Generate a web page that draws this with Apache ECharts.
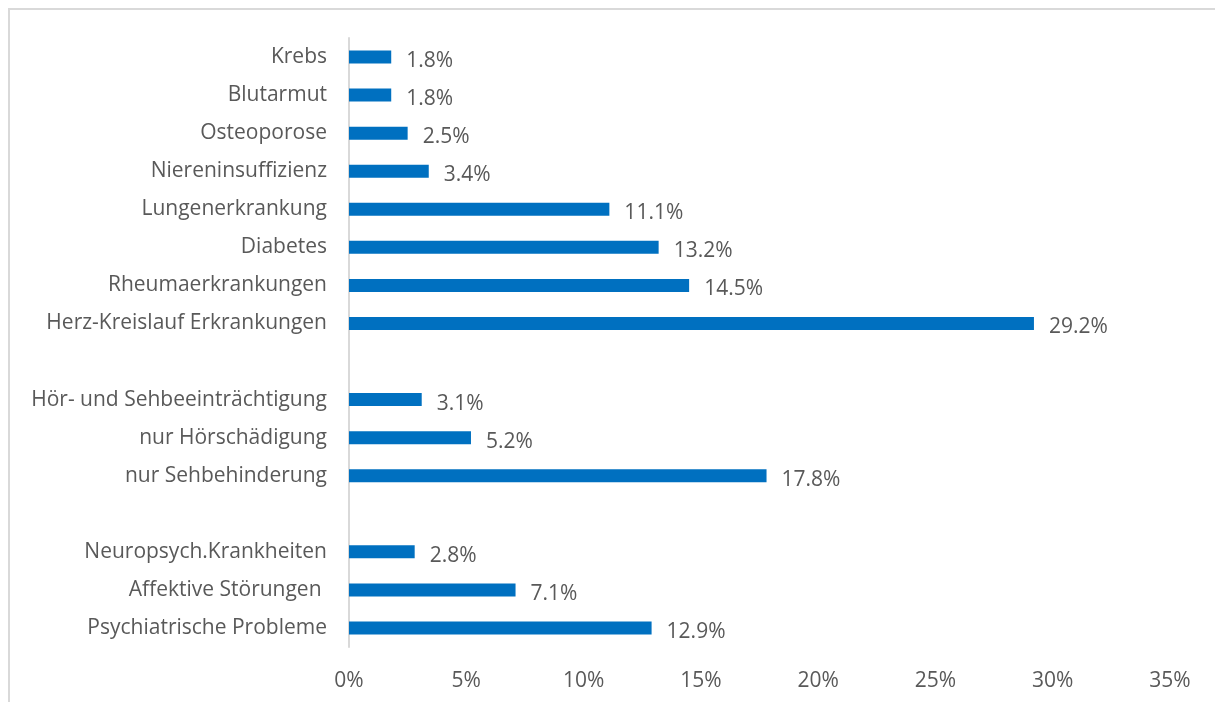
<!DOCTYPE html>
<html>
<head>
<meta charset="utf-8">
<script src="https://cdn.jsdelivr.net/npm/echarts@6/dist/echarts.min.js"></script>
<style>
  html, body { margin: 0; padding: 0; background: #fff; }
  #frame { position: absolute; left: 8px; top: 8px; width: 1220px; height: 710px; border: 2px solid #d9d9d9; box-sizing: border-box; }
  #chart { position: absolute; left: 0; top: 0; width: 1215px; height: 702px; }
</style>
</head>
<body>
<div id="frame"></div>
<div id="chart"></div>
<script>
// Categories listed bottom to top; empty entries separate the three groups
const categories = [
  'Psychiatrische Probleme',
  'Affektive Störungen ',
  'Neuropsych.Krankheiten',
  'gap1',
  'nur Sehbehinderung',
  'nur Hörschädigung',
  'Hör- und Sehbeeinträchtigung',
  'gap2',
  'Herz-Kreislauf Erkrankungen',
  'Rheumaerkrankungen',
  'Diabetes',
  'Lungenerkrankung',
  'Niereninsuffizienz',
  'Osteoporose',
  'Blutarmut',
  'Krebs'
];
// Share in percent
const values = [12.9, 7.1, 2.8, null, 17.8, 5.2, 3.1, null, 29.2, 14.5, 13.2, 11.1, 3.4, 2.5, 1.8, 1.8];
const xTicks = [0, 5, 10, 15, 20, 25, 30, 35];

const textColor = '#595959';
const fontFamily = 'Open Sans, Lato, sans-serif';
const fontSize = 21;

const chart = echarts.init(document.getElementById('chart'), null, { renderer: 'canvas' });
chart.setOption({
  animation: false,
  grid: { left: 349, right: 45, top: 38, bottom: 55, containLabel: false },
  xAxis: {
    type: 'value',
    min: xTicks[0],
    max: xTicks[xTicks.length - 1],
    interval: 5,
    axisLine: { show: false },
    axisTick: { show: false },
    splitLine: { show: false },
    axisLabel: {
      color: textColor, fontSize: fontSize, fontFamily: fontFamily, margin: 24,
      formatter: v => v + '%'
    }
  },
  yAxis: {
    type: 'category',
    data: categories,
    axisLine: { show: true, lineStyle: { color: '#d9d9d9', width: 2 } },
    axisTick: { show: false },
    splitLine: { show: false },
    axisLabel: {
      color: textColor, fontSize: fontSize, fontFamily: fontFamily, margin: 22,
      padding: [4, 0, 0, 0],
      formatter: v => v.startsWith('gap') ? '' : v
    }
  },
  series: [{
    type: 'bar',
    data: values,
    barWidth: 13,
    itemStyle: { color: '#0070c0' },
    label: {
      show: true,
      position: 'right',
      distance: 15,
      offset: [0, 4],
      color: textColor,
      fontSize: fontSize,
      fontFamily: fontFamily,
      formatter: p => p.value == null ? '' : p.value.toFixed(1) + '%'
    }
  }]
});
</script>
</body>
</html>
